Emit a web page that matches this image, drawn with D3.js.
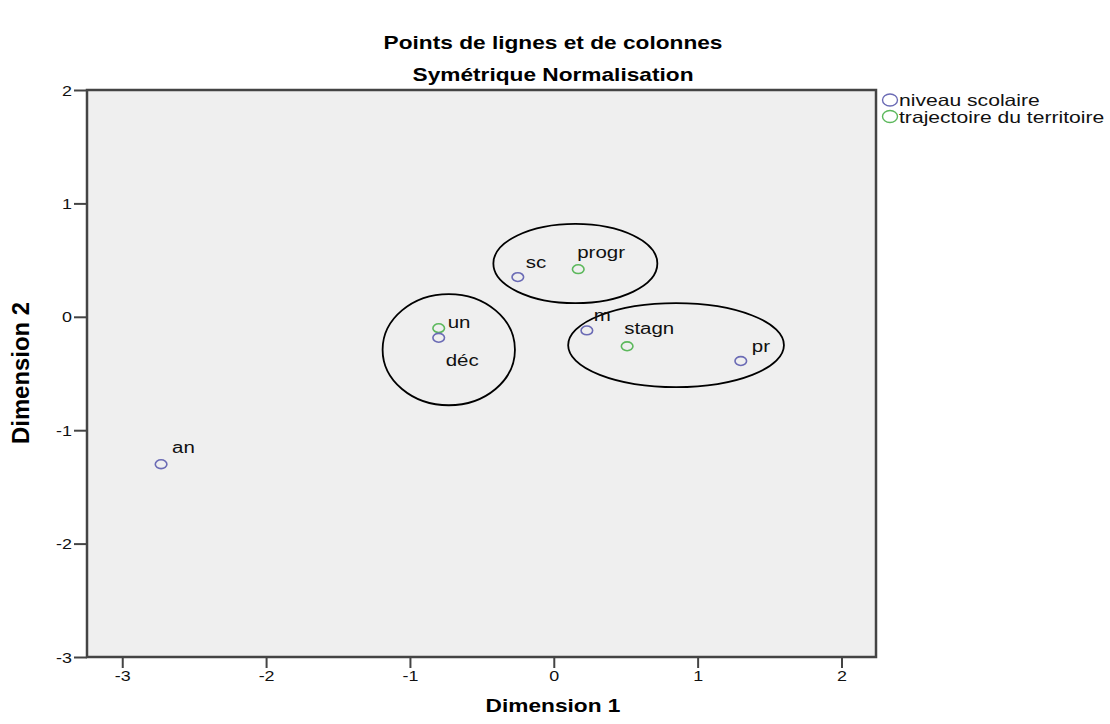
<!DOCTYPE html>
<html><head><meta charset="utf-8">
<script src="https://cdn.jsdelivr.net/npm/d3@7"></script>
<style>body{margin:0;background:#fff}svg{display:block}</style>
</head><body>
<script>
const labels = ["an","sc","un","m","pr","déc","progr","stagn"];
const dim1   = [-2.73,-0.25,-0.80,0.23,1.30,-0.80,0.17,0.51];
const dim2   = [-1.30,0.35,-0.10,-0.12,-0.39,-0.185,0.42,-0.26];
const groups = ["niveau scolaire","niveau scolaire","trajectoire du territoire","niveau scolaire","niveau scolaire","niveau scolaire","trajectoire du territoire","trajectoire du territoire"];
const seriesNames = ["niveau scolaire","trajectoire du territoire"];
const xTicks = [-3,-2,-1,0,1,2];
const yTicks = [-3,-2,-1,0,1,2];
// annotation ellipses (centre x, centre y, radius x, radius y in data units)
const ellCx = [0.15,-0.73,0.85];
const ellCy = [0.47,-0.29,-0.25];
const ellRx = [0.57,0.46,0.75];
const ellRy = [0.35,0.49,0.37];

const W=1110,H=724;
const SX=1.28; // horizontal stretch of the reference rendering
const svg=d3.select("body").append("svg").attr("width",W).attr("height",H);
const L=87,R=876,T=90,B=657;
const x=d3.scaleLinear().domain([-3.245,2.24]).range([L,R]);
const y=d3.scaleLinear().domain([-3,2]).range([B,T]);
const color=d3.scaleOrdinal().domain(seriesNames).range(["#6b6bb5","#5cb85c"]);
const font="Arial, 'Liberation Sans', sans-serif";
const fmt=d=>String(d); // hyphen-minus like the reference

function stext(g,px,py,str,size,opts={}){
  return g.append("text")
    .attr("transform",`translate(${px},${py}) scale(${opts.sx||SX},1)`)
    .attr("text-anchor",opts.anchor||"start")
    .attr("font-family",font).attr("font-size",size)
    .attr("font-weight",opts.bold?"bold":"normal")
    .attr("fill",opts.fill||"#111").text(str);
}

svg.append("rect").attr("x",L).attr("y",T).attr("width",R-L).attr("height",B-T)
  .attr("fill","#efefef");

// axes
const gx=svg.append("g").attr("transform",`translate(0,${B})`)
  .call(d3.axisBottom(x).tickValues(xTicks).tickSize(11).tickFormat(""));
const gy=svg.append("g").attr("transform",`translate(${L},0)`)
  .call(d3.axisLeft(y).tickValues(yTicks).tickSize(13).tickFormat(""));
[gx,gy].forEach(g=>{
  g.select(".domain").remove();
  g.selectAll(".tick line").attr("stroke","#444").attr("stroke-width",2);
});
gx.selectAll(".tick").each(function(d){
  stext(d3.select(this),0,24,fmt(d),14,{anchor:"middle"});
});
gy.selectAll(".tick").each(function(d){
  stext(d3.select(this),-15,5,fmt(d),14,{anchor:"end"});
});

svg.append("rect").attr("x",L).attr("y",T).attr("width",R-L).attr("height",B-T)
  .attr("fill","none").attr("stroke","#444").attr("stroke-width",2.5);

// titles
stext(svg,553,49,"Points de lignes et de colonnes",18,{anchor:"middle",bold:true,fill:"#000",sx:1.26});
stext(svg,553,81,"Symétrique Normalisation",18,{anchor:"middle",bold:true,fill:"#000",sx:1.26});
stext(svg,553,712,"Dimension 1",18,{anchor:"middle",bold:true,fill:"#000",sx:1.26});
svg.append("text").attr("transform","translate(29,373) rotate(-90)").attr("text-anchor","middle")
  .attr("font-family",font).attr("font-weight","bold").attr("font-size",23)
  .attr("textLength",142).attr("lengthAdjust","spacingAndGlyphs").text("Dimension 2");

// ellipses
svg.append("g").selectAll("ellipse").data(ellCx).join("ellipse")
  .attr("cx",(d,i)=>x(ellCx[i])).attr("cy",(d,i)=>y(ellCy[i]))
  .attr("rx",(d,i)=>x(ellRx[i])-x(0)).attr("ry",(d,i)=>y(0)-y(ellRy[i]))
  .attr("fill","none").attr("stroke","#000").attr("stroke-width",1.8);

// points
const pts=labels.map((l,i)=>({l,x:dim1[i],y:dim2[i],g:groups[i]}));
svg.append("g").selectAll("ellipse").data(pts).join("ellipse")
  .attr("cx",d=>x(d.x)).attr("cy",d=>y(d.y)).attr("rx",5.8).attr("ry",4.4)
  .attr("fill","none").attr("stroke",d=>color(d.g)).attr("stroke-width",1.6);

// label offsets (px)
const off={an:[11,-11],sc:[8,-9],un:[9,0],m:[7,-9],pr:[11,-9],"déc":[7,28],progr:[-1,-11],stagn:[-3,-12]};
const lg0=svg.append("g");
pts.forEach(d=>stext(lg0,x(d.x)+off[d.l][0],y(d.y)+off[d.l][1],d.l,16));

// legend
seriesNames.forEach((s,i)=>{
  const g=svg.append("g").attr("transform",`translate(890,${100+i*16.5})`);
  g.append("ellipse").attr("rx",7.5).attr("ry",6).attr("fill","none").attr("stroke",color(s)).attr("stroke-width",1.4);
  stext(g,9,6,s,16.5);
});
</script>
</body></html>
